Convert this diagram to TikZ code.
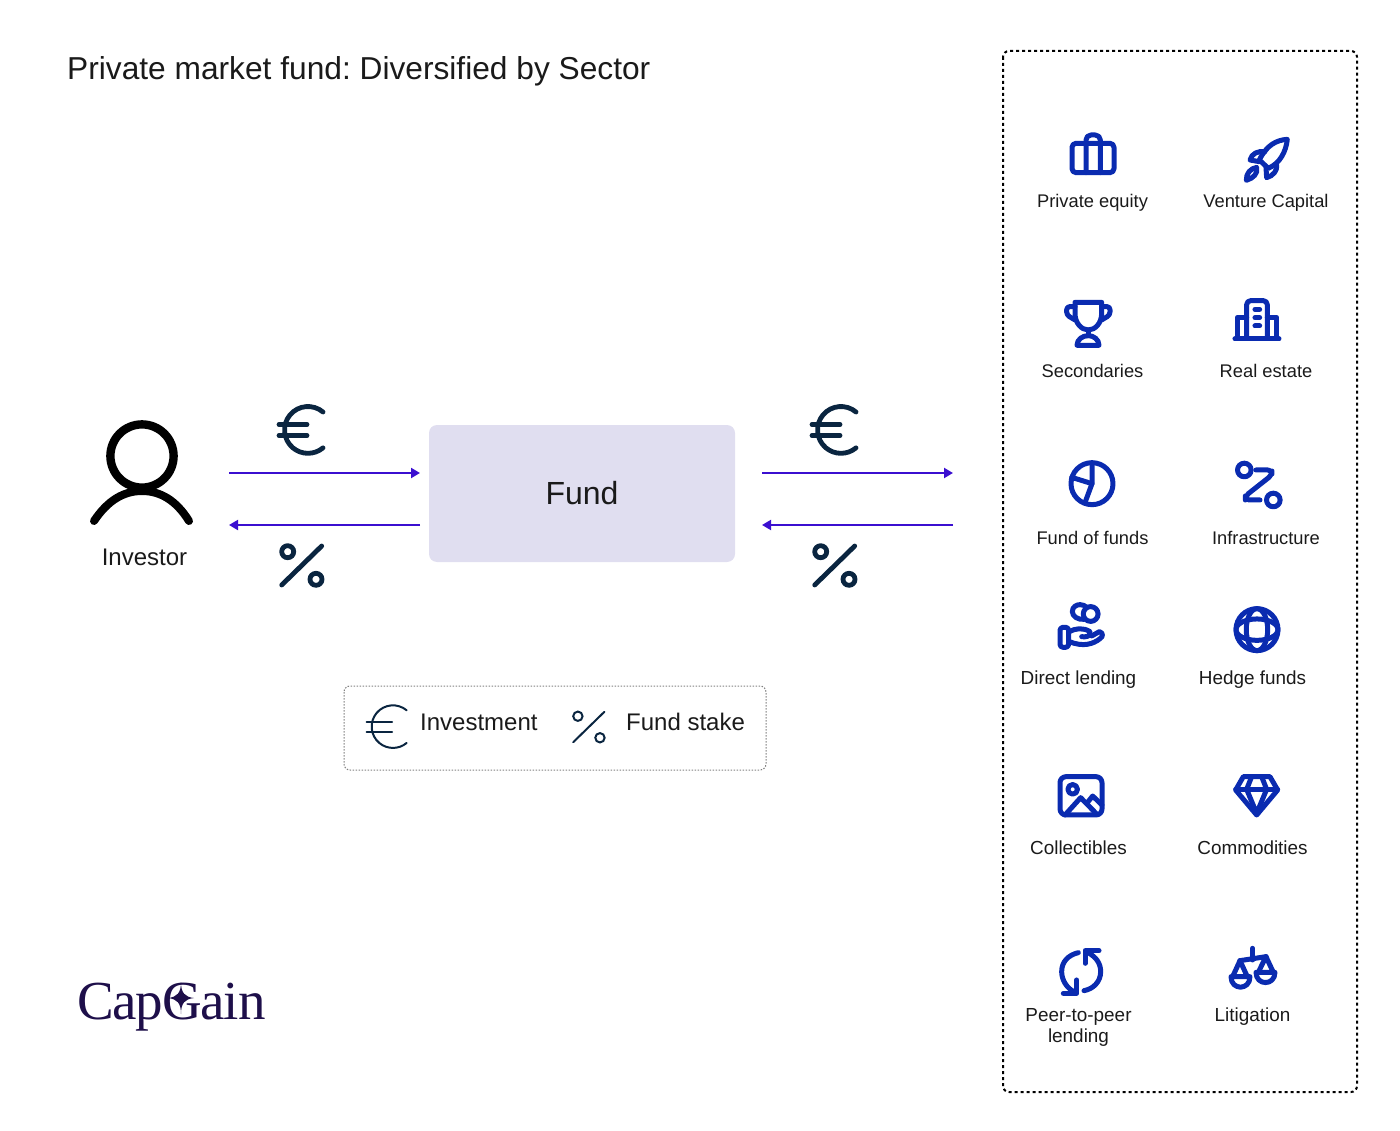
\documentclass[tikz,border=0pt]{standalone}
\usepackage{fontspec}
\setmainfont{Liberation Sans}
\newfontfamily\logofont[LetterSpace=-2.2]{Liberation Serif}
\usetikzlibrary{arrows.meta}
\definecolor{inkblack}{HTML}{1A1A1A}
\definecolor{flowviolet}{HTML}{3B0FD0}
\definecolor{fundfill}{HTML}{E0DEF0}
\definecolor{signnavy}{HTML}{0A2540}
\definecolor{iconblue}{HTML}{0A2BB0}
\definecolor{logoink}{HTML}{1E0F4A}
\newcommand{\pxfont}[1]{\fontsize{#1}{#1}\selectfont}
\frenchspacing
\tikzset{
  flowarrow/.style={draw=flowviolet, line width=2pt, -{Triangle[length=9pt,width=10pt]}},
  signline/.style={draw=signnavy, line cap=round},
  iconline/.style={draw=iconblue, line width=5pt, line cap=round, line join=round},
  panel/.style={x=0.3333pt, y=-0.3333pt},
  sector/.style={anchor=base, text=inkblack, font=\pxfont{18.3}, inner sep=0pt, align=center},
  sectorwide/.style={sector, font=\pxfont{18.9}},
  pics/eurosign/.style={code={
    \draw[signline] (15,-18) arc[start angle=50, end angle=310, radius=23.4pt];
    \draw[signline] (-29,-5.5) -- (-1,-5.5);
    \draw[signline] (-29,5.5) -- (-1,5.5);
  }},
  pics/percentsign/.style={code={
    \draw[signline] (20,-19.5) -- (-20,19.5);
    \draw[signline] (-14,-13.8) circle (6pt);
    \draw[signline] (14.3,13.8) circle (6pt);
  }}
}
\begin{document}
\begin{tikzpicture}[x=1pt,y=-1pt]
    \useasboundingbox (0,0) rectangle (1400,1131);

    % Title
    \node[anchor=base west, inner sep=0pt, text=inkblack, font=\pxfont{31.7}] (title) at (67,79.5) {Private market fund: Diversified by Sector};

    % Sector frame
    \draw[line width=2pt, dash pattern=on 3pt off 3pt, rounded corners=6pt] (1003,51) rectangle (1357,1092);

    % Investor
    \draw[line width=8.4pt] (142,456) circle (31.6pt);
    \draw[line width=8pt, line cap=round] (94,521) .. controls (108,500) and (124,491) .. (142,491) .. controls (160,491) and (176,500) .. (189,521);
    \node[anchor=base, inner sep=0pt, text=inkblack, font=\pxfont{24}] (investor) at (144.5,565) {Investor};

    % Fund
    \node[fill=fundfill, rounded corners=8pt, minimum width=306pt, minimum height=137pt, inner sep=0pt, text=inkblack, font=\pxfont{32}] (fund) at (582,493.5) {Fund};

    % Flow ends
    \coordinate (investorOut) at (229,473);
    \coordinate (fundIn) at (420,473);
    \coordinate (fundBack) at (420,525);
    \coordinate (investorIn) at (229,525);
    \coordinate (fundOut) at (762,473);
    \coordinate (sectorIn) at (953,473);
    \coordinate (sectorBack) at (953,525);
    \coordinate (fundReturn) at (762,525);

    % Flows
    \draw[flowarrow] (investorOut) -- (fundIn);
    \draw[flowarrow] (fundBack) -- (investorIn);
    \draw[flowarrow] (fundOut) -- (sectorIn);
    \draw[flowarrow] (sectorBack) -- (fundReturn);

    % Signs over the flows
    \pic[line width=4.8pt] at (308,430) {eurosign};
    \pic[line width=4.8pt] at (841,430) {eurosign};
    \pic[line width=4.8pt] at (301.7,565.5) {percentsign};
    \pic[line width=4.8pt] at (834.7,565.5) {percentsign};

    % Legend
    \draw[draw=gray, line width=1pt, dash pattern=on 1.5pt off 1.5pt, rounded corners=6pt] (344,686) rectangle (766,770);
    \pic[line width=2pt, scale=0.91] at (393,726.7) {eurosign};
    \pic[line width=2pt, scale=0.78] at (588.8,727) {percentsign};
    \node[anchor=base west, inner sep=0pt, text=inkblack, font=\pxfont{24}] (investment) at (420,730) {Investment};
    \node[anchor=base west, inner sep=0pt, text=inkblack, font=\pxfont{24}] (stake) at (626,730) {Fund stake};

    % Logo
    \node[anchor=base west, inner sep=0pt, text=logoink, font=\logofont\pxfont{55}] (logo) at (77,1019) {CapGain};
    \fill[logoink] (181,982) .. controls (181,993) and (185,997) .. (194,998) .. controls (185,999) and (181,1003) .. (181,1014) .. controls (181,1003) and (177,999) .. (168,998) .. controls (177,997) and (181,993) .. (181,982) -- cycle;

    % Sector labels
    \node[sector] (equity) at (1092.5,207.5) {Private equity};
    \node[sector] (venture) at (1266,207.5) {Venture Capital};
    \node[sector] (secondaries) at (1092.5,377.5) {Secondaries};
    \node[sector] (estate) at (1266,377.5) {Real estate};
    \node[sector] (funds) at (1092.5,544.5) {Fund of funds};
    \node[sector] (infra) at (1266,544.5) {Infrastructure};
    \node[sectorwide] (lending) at (1078.5,684.5) {Direct lending};
    \node[sectorwide] (hedge) at (1252.5,684.5) {Hedge funds};
    \node[sectorwide] (collect) at (1078.5,854.5) {Collectibles};
    \node[sectorwide] (commod) at (1252.5,854.5) {Commodities};
    \node[sectorwide] (peer) at (1078.5,1021.5) {Peer-to-peer};
    \node[sectorwide] (peerb) at (1078.5,1042) {lending};
    \node[sectorwide] (litig) at (1252.5,1021.5) {Litigation};

    \begin{scope}[shift={(1010,110)}, panel]
      % Briefcase
      \draw[iconline, rounded corners=4pt] (186,100) rectangle (312,188);
      \draw[iconline, rounded corners=5pt] (228,188) -- (228,75) -- (271,75) -- (271,188);
      % Rocket
      \draw[iconline] (832,88) .. controls (800,90) and (770,105) .. (748,150) -- (775,175) .. controls (810,160) and (828,125) .. (832,88) -- cycle;
      \draw[iconline] (765,125) .. controls (745,122) and (725,130) .. (720,150) -- (748,155);
      \draw[iconline] (800,165) .. controls (803,180) and (790,198) .. (770,203) -- (768,172);
      \draw[iconline] (709,211) .. controls (708,190) and (722,175) .. (740,172) .. controls (745,190) and (730,205) .. (709,211) -- cycle;
      % Trophy
      \draw[iconline] (195,577) -- (275,577) -- (275,610) .. controls (275,640) and (255,660) .. (235,660) .. controls (215,660) and (195,640) .. (195,610) -- cycle;
      \draw[iconline, rounded corners=3pt] (195,590) -- (170,590) -- (170,615) -- (195,630);
      \draw[iconline, rounded corners=3pt] (275,590) -- (300,590) -- (300,615) -- (275,630);
      \draw[iconline] (235,660) -- (235,675);
      \draw[iconline] (201,706) -- (267,706) .. controls (267,688) and (250,677) .. (235,677) .. controls (218,677) and (201,688) .. (201,706) -- cycle;
      % Building
      \draw[iconline, rounded corners=4pt] (710,685) -- (710,572) -- (772,572) -- (772,685);
      \draw[iconline] (710,622) -- (682,622) -- (682,685);
      \draw[iconline] (772,622) -- (800,622) -- (800,685);
      \draw[iconline] (675,687) -- (807,687);
      \draw[iconline] (735,598) -- (749,598);
      \draw[iconline] (735,623) -- (749,623);
      \draw[iconline] (735,648) -- (749,648);
    \end{scope}

    \begin{scope}[shift={(1010,440)}, panel]
      % Pie
      \draw[iconline] (246,131) circle (21pt);
      \draw[iconline] (246,68) -- (246,131) -- (225,188);
      \draw[iconline] (246,131) -- (185,112);
      % Route
      \draw[iconline] (703,90) circle (6.8pt);
      \draw[iconline] (790,180) circle (6.8pt);
      \draw[iconline, rounded corners=4pt] (738,90) -- (786,90) -- (786,105) -- (706,168) -- (706,180) -- (750,180);
      % Hand with coins
      \draw[iconline] (242,522) circle (7.4pt);
      \draw[iconline] (222,538) .. controls (205,540) and (187,530) .. (187,515) .. controls (187,500) and (200,494) .. (210,494) .. controls (218,494) and (225,497) .. (230,502);
      \draw[iconline, rounded corners=3pt] (150,562) rectangle (176,622);
      \draw[iconline] (178,575) .. controls (195,565) and (220,562) .. (240,575) .. controls (245,590) and (225,592) .. (215,590);
      \draw[iconline] (245,588) -- (268,575) .. controls (280,578) and (280,590) .. (270,596) .. controls (250,612) and (220,622) .. (178,605);
      % Globe
      \draw[iconline] (741,569) circle (21pt);
      \draw[iconline] (741,569) ellipse [x radius=10.7pt, y radius=21pt];
      \draw[iconline] (741,569) ellipse [x radius=21pt, y radius=10.7pt];
    \end{scope}

    \begin{scope}[shift={(1010,760)}, panel]
      % Picture frame
      \draw[iconline, rounded corners=6pt] (150,50) rectangle (276,165);
      \draw[iconline] (188,88) circle (4.8pt);
      \draw[iconline] (165,165) -- (212,113) -- (258,160);
      \draw[iconline] (232,128) -- (248,108) -- (276,135);
      % Gem
      \draw[iconline] (700,50) -- (780,50) -- (803,90) -- (740,165) -- (677,90) -- cycle;
      \draw[iconline] (677,88) -- (803,88);
      \draw[iconline] (725,50) -- (710,88) -- (740,160) -- (770,88) -- (755,50);
      % Cycle arrows
      \draw[iconline] (205,578) .. controls (175,585) and (155,605) .. (155,635) .. controls (155,660) and (170,685) .. (195,697);
      \draw[iconline] (232,577) .. controls (258,590) and (272,610) .. (272,635) .. controls (272,665) and (250,687) .. (222,692);
      \draw[iconline] (200,660) -- (200,700) -- (160,700);
      \draw[iconline] (225,610) -- (225,572) -- (267,572);
      % Scales
      \draw[iconline] (728,565) -- (728,600);
      \draw[iconline] (690,602) -- (768,590);
      \draw[iconline] (690,602) -- (668,650);
      \draw[iconline] (690,602) -- (712,650);
      \draw[iconline] (663,650) .. controls (663,692) and (720,692) .. (720,650) -- cycle;
      \draw[iconline] (768,590) -- (745,637);
      \draw[iconline] (768,590) -- (790,637);
      \draw[iconline] (738,637) .. controls (738,678) and (795,678) .. (795,637) -- cycle;
    \end{scope}
\end{tikzpicture}
\end{document}
